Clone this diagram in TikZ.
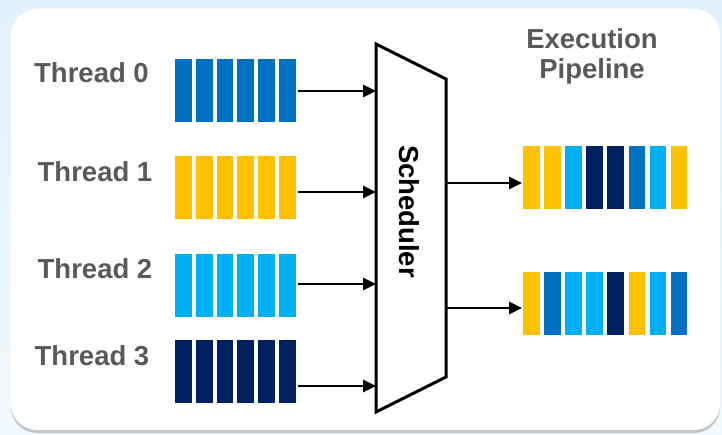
\documentclass[tikz,border=0pt]{standalone}
\usepackage{fontspec}
\setmainfont{Liberation Sans}
\usetikzlibrary{arrows.meta,shadows}

\definecolor{qblue}{HTML}{0070C0}
\definecolor{qgold}{HTML}{FFC000}
\definecolor{qsky}{HTML}{00B0F0}
\definecolor{qnavy}{HTML}{002060}
\definecolor{labelgray}{HTML}{595959}
\definecolor{bgtop}{RGB}{226,241,251}
\definecolor{bgbot}{RGB}{242,249,254}

\tikzset{
  label text/.style={text=labelgray, font=\bfseries\fontsize{27.5}{31}\selectfont, inner sep=0pt},
  flow/.style={line width=2.6pt, -{Triangle[length=13pt,width=12pt]}},
  card/.style={fill=white, rounded corners=26pt,
    drop shadow={shadow xshift=0pt, shadow yshift=-3pt, opacity=0.35, fill=black!60}},
}

% one bar of a queue: x, y-top, colour
\newcommand{\qbar}[3]{\fill[#3] (#1,#2) rectangle ++(16.7,63);}

\begin{document}
\begin{tikzpicture}[x=1pt,y=-1pt]
  \useasboundingbox (0,0) rectangle (722,435);

  % page background and card
  \shade[top color=bgtop, bottom color=bgbot] (0,0) rectangle (722,435);
  \path[card] (11,9) rectangle (720,430);

  % thread labels
  \node[label text] (l0) at (91.5,72.5) {Thread 0};
  \node[label text] (l1) at (95,172) {Thread 1};
  \node[label text] (l2) at (95,269) {Thread 2};
  \node[label text] (l3) at (92,356) {Thread 3};

  % thread queues
  \foreach \yt/\c in {59/qblue,156/qgold,254/qsky,340/qnavy}{
    \foreach \k in {0,...,5}{
      \qbar{175+20.8*\k}{\yt}{\c}
    }
  }

  % scheduler
  \draw[line width=3pt, line join=miter] (376,44) -- (446,79) -- (446,377) -- (376,412) -- cycle;
  \node[label text, text=black, rotate=-90] (sched) at (409,211.5) {Scheduler};

  % queue outputs and scheduler inputs
  \coordinate (q0) at (298,91);  \coordinate (s0) at (376,91);
  \coordinate (q1) at (298,192); \coordinate (s1) at (376,192);
  \coordinate (q2) at (298,284); \coordinate (s2) at (376,284);
  \coordinate (q3) at (298,386); \coordinate (s3) at (376,386);
  \foreach \i in {0,...,3}{ \draw[flow] (q\i) -- (s\i); }

  % scheduler outputs to the pipeline
  \coordinate (o0) at (446,183); \coordinate (p0) at (522,183);
  \coordinate (o1) at (446,308); \coordinate (p1) at (522,308);
  \draw[flow] (o0) -- (p0);
  \draw[flow] (o1) -- (p1);

  % execution pipeline
  \node[label text] (exec) at (592,38.5) {Execution};
  \node[label text] (pipe) at (592,71) {Pipeline};
  \foreach \c [count=\k from 0] in {qgold,qgold,qsky,qnavy,qnavy,qblue,qsky,qgold}{
    \qbar{523+21.1*\k}{146}{\c}
  }
  \foreach \c [count=\k from 0] in {qgold,qblue,qsky,qsky,qnavy,qgold,qsky,qblue}{
    \qbar{523+21.1*\k}{272}{\c}
  }
\end{tikzpicture}
\end{document}
